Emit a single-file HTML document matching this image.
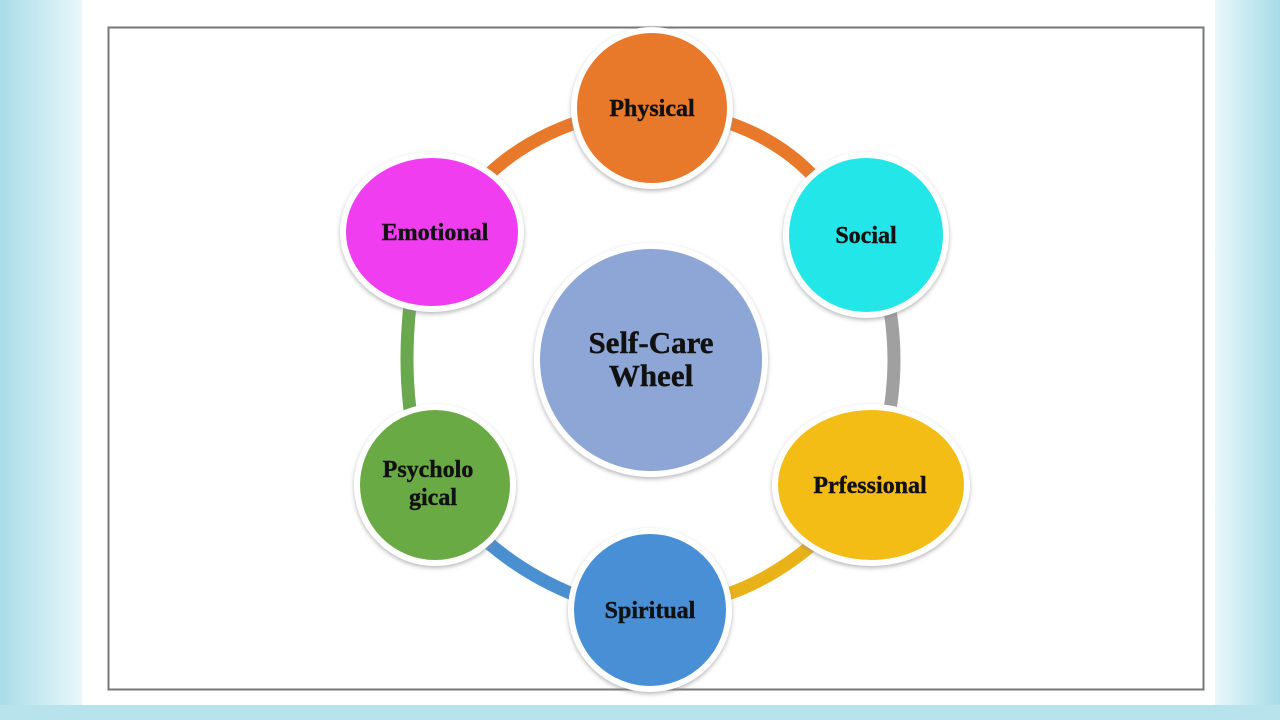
<!DOCTYPE html>
<html><head><style>
html,body{margin:0;padding:0;width:1280px;height:720px;overflow:hidden;background:#fff;}
</style></head><body>
<svg width="1280" height="720" xmlns="http://www.w3.org/2000/svg" style="position:absolute;left:0;top:0">
<defs>
<linearGradient id="bg" x1="0" x2="1"><stop offset="0" stop-color="#a9dde9"/><stop offset="1" stop-color="#e9f7fa"/></linearGradient>
<linearGradient id="bg2" x1="0" x2="1"><stop offset="0" stop-color="#e9f7fa"/><stop offset="1" stop-color="#a6dce8"/></linearGradient>
<filter id="sh" x="-20%" y="-20%" width="140%" height="140%"><feDropShadow dx="0" dy="2" stdDeviation="2" flood-color="#888" flood-opacity="0.6"/></filter>
</defs>
<rect x="0" y="0" width="82" height="720" fill="url(#bg)"/>
<rect x="1215" y="0" width="65" height="720" fill="url(#bg2)"/>
<rect x="82" y="0" width="1133" height="705" fill="#fff"/>
<rect x="0" y="705" width="1280" height="15" fill="#b8e3ec"/>
<rect x="108.5" y="27.5" width="1095" height="662" fill="none" stroke="#777" stroke-width="2"/>
<g fill="none" stroke-width="13" stroke-linecap="round">
<path d="M578 122 Q525 140 488 175" stroke="#e8782a"/>
<path d="M726 122 Q780 140 815 178" stroke="#e8782a"/>
<path d="M890 310 Q898 360 890 410" stroke="#a0a0a0"/>
<path d="M812 545 Q770 580 725 595" stroke="#e9b218"/>
<path d="M575 595 Q525 575 485 540" stroke="#4a8fd0"/>
<path d="M410 305 Q404 360 410 410" stroke="#6aa84f"/>
</g>
<g stroke="#fff" stroke-width="6" filter="url(#sh)">
<circle cx="651" cy="360" r="114" fill="#8ea6d6"/>
<circle cx="652" cy="108" r="78" fill="#e8782a"/>
<circle cx="866" cy="235" r="80" fill="#22e6e8"/>
<ellipse cx="871" cy="485" rx="96" ry="78" fill="#f3bd16"/>
<circle cx="650" cy="610" r="79" fill="#4a8fd6"/>
<circle cx="435" cy="485" r="78" fill="#6aaa45"/>
<ellipse cx="432" cy="232" rx="89" ry="77" fill="#f03ef0"/>
</g>
<g font-family="Liberation Serif, serif" font-weight="bold" font-size="24" fill="#111" text-anchor="middle" stroke="#111" stroke-width="0.4">
<text x="652" y="116">Physical</text>
<text x="866" y="243">Social</text>
<text x="870" y="493">Prfessional</text>
<text x="650" y="618">Spiritual</text>
<text x="435" y="240">Emotional</text>
<text x="428" y="477">Psycholo</text>
<text x="433" y="505">gical</text>
<text x="651" y="353" font-size="31">Self-Care</text>
<text x="651" y="386" font-size="31">Wheel</text>
</g>
</svg>
</body></html>
